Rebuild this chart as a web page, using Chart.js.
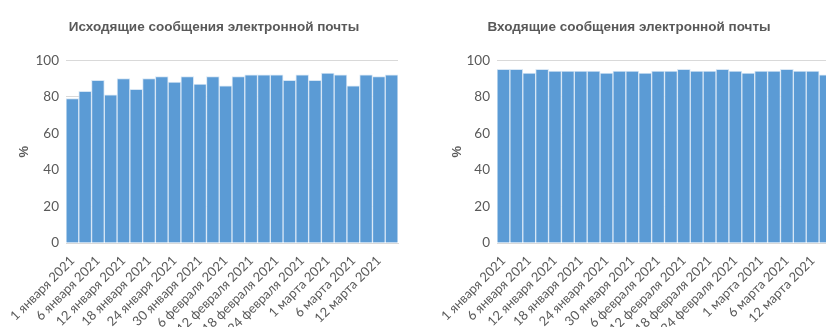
<!DOCTYPE html>
<html>
<head>
<meta charset="utf-8">
<script src="https://cdn.jsdelivr.net/npm/chart.js@4/dist/chart.umd.min.js"></script>
<style>
  html, body { margin: 0; padding: 0; background: #fff; overflow: hidden; }
  #wrap { position: relative; width: 826px; height: 327px; overflow: hidden; }
  canvas { position: absolute; top: 0; }
  #outChart { left: 0; }
  #inChart { left: 410px; }
</style>
</head>
<body>
<div id="wrap">
  <canvas id="outChart" width="430" height="327"></canvas>
  <canvas id="inChart" width="430" height="327"></canvas>
</div>
<script>
// категории (даты), подписи показываются через одну
var dates = [
  "1 января 2021", "4 января 2021", "6 января 2021", "9 января 2021",
  "12 января 2021", "15 января 2021", "18 января 2021", "21 января 2021",
  "24 января 2021", "27 января 2021", "30 января 2021", "2 февраля 2021",
  "6 февраля 2021", "9 февраля 2021", "12 февраля 2021", "15 февраля 2021",
  "18 февраля 2021", "21 февраля 2021", "24 февраля 2021", "27 февраля 2021",
  "1 марта 2021", "4 марта 2021", "6 марта 2021", "9 марта 2021",
  "12 марта 2021", "15 марта 2021"
];

var outgoing = [79, 83, 89, 81, 90, 84, 90, 91, 88, 91, 87, 91, 86,
                91, 92, 92, 92, 89, 92, 89, 93, 92, 86, 92, 91, 92];

var incoming = [95, 95, 93, 95, 94, 94, 94, 94, 93, 94, 94, 93, 94,
                94, 95, 94, 94, 95, 94, 93, 94, 94, 95, 94, 94, 92];

var yTicks = [0, 20, 40, 60, 80, 100];

var grey = "#595959";

function makeChart(id, title, values, opts) {
    var scales = {
        x: {
            grid: { display: false },
            border: { display: true, color: "#D9D9D9" },
            ticks: {
                autoSkip: false,
                minRotation: 45,
                maxRotation: 45,
                color: grey,
                padding: 2,
                font: { family: "Lato", size: 13 },
                callback: function(value, index) {
                    return index % 2 === 0 ? dates[index] : "";
                }
            },
            afterFit: function(s) { s.height = 84; }
        },
        y: {
            min: 0,
            max: 100,
            afterBuildTicks: function(s) {
                s.ticks = yTicks.map(function(v) { return { value: v }; });
            },
            grid: { color: "#D9D9D9", drawTicks: false },
            border: { display: false },
            ticks: {
                color: grey,
                padding: 7,
                font: { family: "Lato", size: 13.5 }
            },
            title: {
                display: true,
                text: "%",
                color: grey,
                padding: { top: opts.titlePad, bottom: 0 },
                font: { family: "Liberation Sans", size: 13, weight: "bold" }
            },
            afterFit: function(s) { s.width = opts.yWidth; }
        }
    };
    if (opts.rightGap) {
        scales.y2 = {
            position: "right",
            grid: { display: false },
            border: { display: false },
            ticks: { display: false },
            afterFit: function(s) { s.width = opts.rightGap; }
        };
    }

    return new Chart(document.getElementById(id), {
        type: "bar",
        data: {
            labels: dates,
            datasets: [{
                label: title,
                data: values,
                backgroundColor: "#5B9BD5",
                borderColor: "#D6E6F5",
                borderWidth: 1,
                barPercentage: 1,
                categoryPercentage: 1
            }]
        },
        options: {
            responsive: false,
            animation: false,
            layout: { padding: opts.padding },
            plugins: {
                legend: { display: false },
                tooltip: { enabled: false },
                title: {
                    display: true,
                    text: title,
                    color: grey,
                    padding: { top: 19, bottom: 25 },
                    font: { family: "Liberation Sans", size: 13.5, weight: "bold" }
                }
            },
            scales: scales
        }
    });
}

makeChart("outChart", "Исходящие сообщения электронной почты", outgoing, {
    padding: { left: 0, right: 2, top: 0, bottom: 0 },
    yWidth: 66,
    titlePad: 17,
    rightGap: 30
});

makeChart("inChart", "Входящие сообщения электронной почты", incoming, {
    padding: { left: 16, right: 8, top: 0, bottom: 0 },
    yWidth: 71,
    titlePad: 24,
    rightGap: 0
});
</script>
</body>
</html>
